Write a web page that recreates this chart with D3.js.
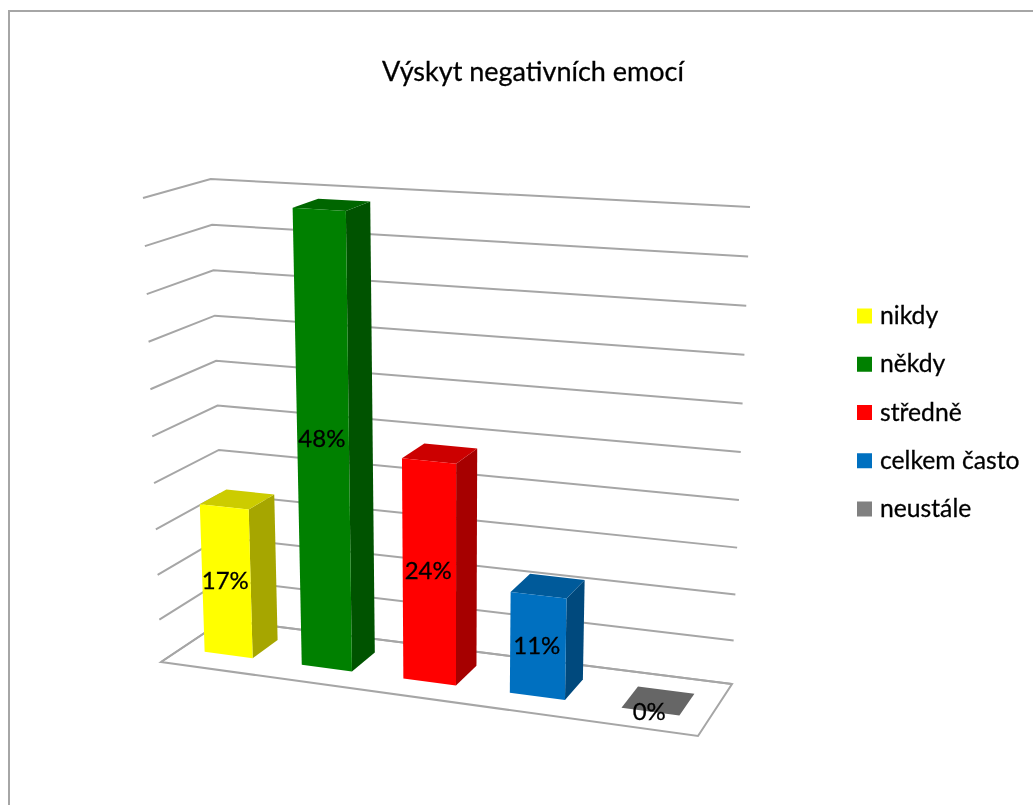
<!DOCTYPE html>
<html><head><meta charset="utf-8">
<script src="https://cdn.jsdelivr.net/npm/d3@7/dist/d3.min.js"></script>
<style>html,body{margin:0;padding:0;background:#fff;overflow:hidden}svg{display:block}text{font-family:Lato,"Noto Sans",sans-serif;fill:#000;stroke:#000;stroke-width:.3px}</style>
</head><body><svg id="c" width="1033" height="805"></svg>
<script>
const title = "Výskyt negativních emocí";
const categories = ["nikdy","někdy","středně","celkem často","neustále"];
const values = [17,48.2,24,11.4,0];
const frontColors = ["#ffff00","#008000","#ff0000","#0070c0","#808080"];
const levels = [0,5,10,15,20,25,30,35,40,45,50];

// Calibration of the fake-3D camera
const floorFL=[161,662], floorBL=[224,620], floorBR=[732,684], floorFR=[698,736];
const wallH={FL:464,BL:441,BR:477,FR:500};
const vanish=[451,8137];

// unit square -> floor quad homography
function homography(p00,p10,p11,p01){
  const [x0,y0]=p00,[x1,y1]=p10,[x2,y2]=p11,[x3,y3]=p01;
  const dx1=x1-x2,dx2=x3-x2,dy1=y1-y2,dy2=y3-y2,sx=x0-x1+x2-x3,sy=y0-y1+y2-y3;
  const den=dx1*dy2-dx2*dy1;
  const g=(sx*dy2-dx2*sy)/den,h=(dx1*sy-sx*dy1)/den;
  const a=x1-x0+g*x1,b=x3-x0+h*x3,d=y1-y0+g*y1,e=y3-y0+h*y3;
  return (u,v)=>{const w=g*u+h*v+1;return [(a*u+b*v+x0)/w,(d*u+e*v+y0)/w];};
}
const floor=homography(floorFL,floorFR,floorBR,floorBL);
const wallScale=d3.scalePow().exponent(1.04).domain([0,50]).range([0,1]);
const barScale=d3.scalePow().exponent(1.07).domain([0,50]).range([0,1.02]);
const uScale=d3.scaleBand().domain(categories).range([0,1]).paddingInner(0.5).paddingOuter(0.25);
const vScale=d3.scaleBand().domain(["row"]).range([0.015,1.015]).padding(0.408);
function project(u,v,h){
  const [fx,fy]=floor(u,v);
  const H=(wallH.FL*(1-u)*(1-v)+wallH.FR*u*(1-v)+wallH.BL*(1-u)*v+wallH.BR*u*v)*h;
  return [fx-(vanish[0]-fx)*H/(vanish[1]-fy),fy-H];
}
const svg=d3.select("#c");
const defs=svg.append("defs");
defs.append("filter").attr("id","soft").attr("x","-5%").attr("y","-5%").attr("width","110%").attr("height","110%")
  .append("feGaussianBlur").attr("stdDeviation",0.6);
const root=svg.append("g").attr("filter","url(#soft)");
const line=d3.line();
const poly=pts=>line(pts)+"Z";

// chart frame
root.append("path").attr("d",line([[9,805],[9,11],[1033,11]])).attr("fill","none").attr("stroke","#a6a6a6").attr("stroke-width",2);

// title
root.append("text").attr("x",533).attr("y",81).attr("text-anchor","middle").attr("font-size",27).text(title);

// walls grid
root.append("g").selectAll("path").data(levels).join("path")
  .attr("d",l=>line([project(0,0,wallScale(l)),project(0,1,wallScale(l)),project(1,1,wallScale(l))]))
  .attr("fill","none").attr("stroke","#a6a6a6").attr("stroke-width",2);
// floor
root.append("path").attr("d",poly([project(0,0,0),project(1,0,0),project(1,1,0),project(0,1,0)]))
  .attr("fill","none").attr("stroke","#a6a6a6").attr("stroke-width",2);

// bars
const rows=categories.map((c,i)=>({c,val:values[i],h:barScale(values[i]),col:d3.color(frontColors[i])}));
const bars=root.append("g").selectAll("g").data(rows).join("g");
const v0=vScale("row"),v1=v0+vScale.bandwidth();
const ub=d=>[uScale(d.c),uScale(d.c)+uScale.bandwidth()];
const shade=(col,k)=>d3.rgb(col.r*k,col.g*k,col.b*k).formatHex();
bars.append("path").attr("d",d=>{const[a,b]=ub(d);return poly([project(b,v0,0),project(b,v1,0),project(b,v1,d.h),project(b,v0,d.h)]);})
  .attr("fill",d=>shade(d.col,0.65));
bars.append("path").attr("d",d=>{const[a,b]=ub(d);return poly([project(a,v0,d.h),project(b,v0,d.h),project(b,v1,d.h),project(a,v1,d.h)]);})
  .attr("fill",d=>shade(d.col,0.8));
bars.filter(d=>d.val>0).append("path").attr("d",d=>{const[a,b]=ub(d);return poly([project(a,v0,0),project(b,v0,0),project(b,v0,d.h),project(a,v0,d.h)]);})
  .attr("fill",d=>d.col.formatHex());

// data labels
const labelAt=d=>project(uScale(d.c)+uScale.bandwidth()/2,v0,d.h/2);
root.append("g").selectAll("text").data(rows).join("text")
  .attr("text-anchor","middle").attr("font-size",24)
  .attr("x",d=>labelAt(d)[0]-1)
  .attr("y",d=>labelAt(d)[1]+8)
  .text(d=>Math.round(d.val)+"%");

// legend
const legendY=d3.scalePoint().domain(categories).range([316,509]);
const lg=root.append("g").selectAll("g").data(rows).join("g").attr("transform",d=>`translate(857,${legendY(d.c)})`);
lg.append("rect").attr("x",0).attr("y",-7.5).attr("width",15).attr("height",15).attr("fill",d=>d.col.formatHex());
lg.append("text").attr("x",23).attr("y",8).attr("font-size",24.7).text(d=>d.c);
</script></body></html>
